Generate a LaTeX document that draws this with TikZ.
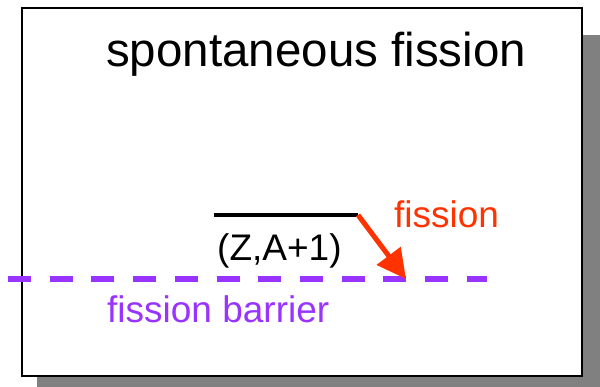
\documentclass[tikz,border=0pt]{standalone}
\usepackage{fontspec}
\setmainfont{Liberation Sans}
\usepackage{xcolor}
\usetikzlibrary{arrows.meta,positioning}
\definecolor{fissred}{HTML}{FF3300}
\definecolor{barpurple}{HTML}{9933FF}
\definecolor{shadowgray}{HTML}{808080}
\begin{document}
\begin{tikzpicture}[
    x=1pt, y=-1pt,
    txt/.style={inner sep=0pt, font=\fontsize{37}{41}\selectfont},
    bigtxt/.style={inner sep=0pt, font=\fontsize{47.5}{52}\selectfont},
    arrow/.style={-{Triangle[length=29pt, width=29pt]}, line width=5pt, fissred}
]
\useasboundingbox (0,0) rectangle (600,387);

% Frame with shadow
\fill[shadowgray] (37,35) rectangle (600,387);
\draw[line width=1.5pt, fill=white] (22,8) rectangle (582,376);

% Title
\node[bigtxt, anchor=base west] (title) at (106,67) {spontaneous fission};

% Level (Z,A+1)
\coordinate (lvlL) at (214,215);
\coordinate (lvlR) at (358,215);
\draw[line width=4pt] (lvlL) -- (lvlR);
\node[txt, anchor=base west] (lvl) at (217,261) {(Z,A+1)};

% Fission barrier
\coordinate (barL) at (8,279);
\coordinate (barR) at (487,279);
\coordinate (hit) at (406,279);
\draw[barpurple, line width=6pt, dash pattern=on 23pt off 18.7pt] (barL) -- (barR);
\node[txt, barpurple, anchor=base west] (barrier) at (107,323) {fission barrier};

% Arrow
\draw[arrow] (lvlR) -- (hit);
\node[txt, fissred, anchor=base west] (fis) at (394,228) {fission};

\end{tikzpicture}
\end{document}
